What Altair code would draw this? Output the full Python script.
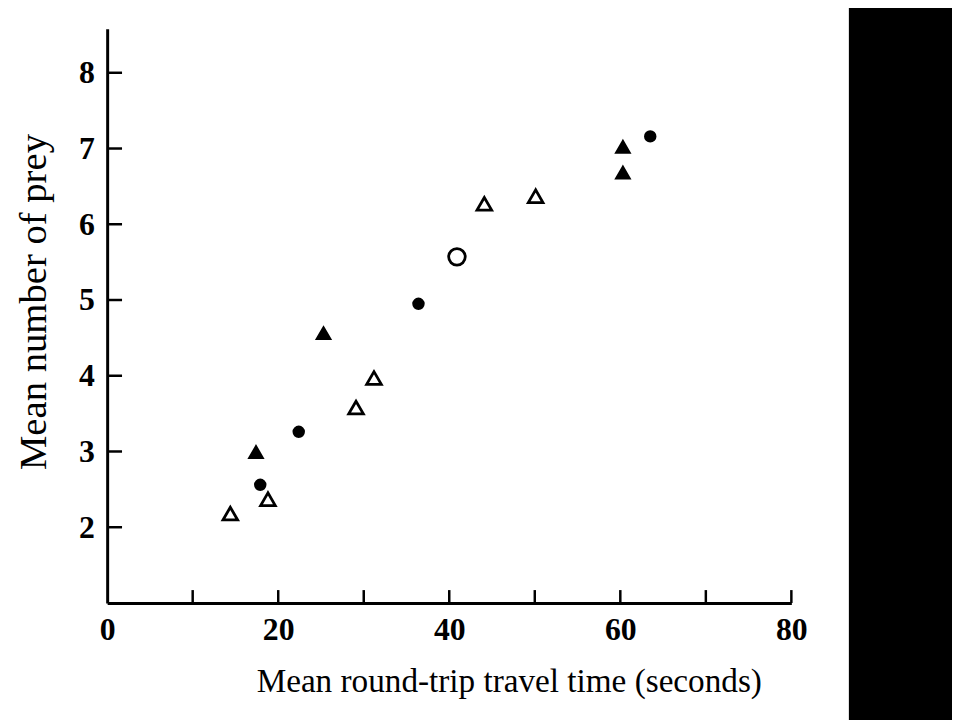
import altair as alt
import pandas as pd

# Data
groups = ["filled circle", "filled circle", "filled circle", "filled circle",
          "filled triangle", "filled triangle", "filled triangle", "filled triangle",
          "open triangle", "open triangle", "open triangle", "open triangle", "open triangle", "open triangle",
          "open circle"]
travel_time = [17.9, 22.4, 36.4, 63.5,
               17.4, 25.3, 60.3, 60.3,
               14.4, 18.8, 29.1, 31.2, 44.1, 50.1,
               40.9]
mean_prey = [2.56, 3.26, 4.95, 7.16,
             2.99, 4.56, 7.02, 6.68,
             2.18, 2.37, 3.58, 3.97, 6.27, 6.37,
             5.57]

group_order = ["filled circle", "filled triangle", "open triangle", "open circle"]
shape_range = ["circle", "triangle-up", "triangle-up", "circle"]
fill_range = ["black", "black", "white", "white"]
size_range = [95, 280, 300, 95]

x_label_values = [0, 20, 40, 60, 80]
x_tick_values = [10, 20, 30, 40, 50, 60, 70, 80]
y_tick_values = [2, 3, 4, 5, 6, 7, 8]

df = pd.DataFrame({"group": groups, "time": travel_time, "prey": mean_prey})
xticks_df = pd.DataFrame({"t": x_tick_values})
yticks_df = pd.DataFrame({"v": y_tick_values})

W, H = 690, 579
FONT = "Liberation Serif"

xscale = alt.Scale(domain=[0, 80], nice=False)
yscale = alt.Scale(domain=[1, 8.58], nice=False)

points = alt.Chart(df).mark_point(filled=False, stroke="black", strokeWidth=2.8, opacity=1).encode(
    x=alt.X("time:Q", scale=xscale,
            axis=alt.Axis(title="Mean round-trip travel time (seconds)", values=x_label_values,
                          format="d", ticks=False, tickSize=0, grid=False, labelPadding=12,
                          labelFlush=False,
                          domainColor="black", domainWidth=3, labelFontSize=32,
                          labelFontWeight="bold",
                          labelFont=FONT, labelColor="black", titleFont=FONT, titleFontSize=33.5,
                          titleFontWeight="normal", titleColor="black",
                          titleX=405, titleY=89, titleAlign="center", titleBaseline="alphabetic")),
    y=alt.Y("prey:Q", scale=yscale,
            axis=alt.Axis(title="Mean number of prey", values=y_tick_values,
                          format="d", ticks=False, tickSize=0, grid=False, labelPadding=13,
                          labelFlush=False,
                          domainColor="black", domainWidth=3, labelFontSize=32,
                          labelFontWeight="bold",
                          labelFont=FONT, labelColor="black", titleFont=FONT, titleFontSize=39,
                          titleFontWeight="normal", titleColor="black",
                          titleX=-62, titleY=275, titleAlign="center", titleAngle=270,
                          titleBaseline="alphabetic")),
    shape=alt.Shape("group:N", scale=alt.Scale(domain=group_order, range=shape_range), legend=None),
    fill=alt.Fill("group:N", scale=alt.Scale(domain=group_order, range=fill_range), legend=None),
    size=alt.Size("group:N", scale=alt.Scale(domain=group_order, range=size_range), legend=None),
)

xticks = alt.Chart(xticks_df).mark_rule(color="black", strokeWidth=2.5).encode(
    x=alt.X("t:Q", scale=xscale),
    y=alt.value(H),
    y2=alt.value(H - 13),
)

yticks = alt.Chart(yticks_df).mark_rule(color="black", strokeWidth=2.5).encode(
    y=alt.Y("v:Q", scale=yscale),
    x=alt.value(0),
    x2=alt.value(15),
)

band = alt.Chart(alt.Data(values=[{"k": 1}])).mark_rect(color="black").encode(
    x=alt.value(748),
    x2=alt.value(870),
    y=alt.value(-30),
    y2=alt.value(720),
)

chart = alt.layer(band, xticks, yticks, points).properties(
    width=W, height=H,
    padding={"left": 100, "top": 18, "right": 162, "bottom": 115},
    autosize=alt.AutoSizeParams(type="none"),
).configure(background="white").configure_view(stroke=None)

chart.save("out.html", embed_options={"renderer": "svg", "actions": False})
